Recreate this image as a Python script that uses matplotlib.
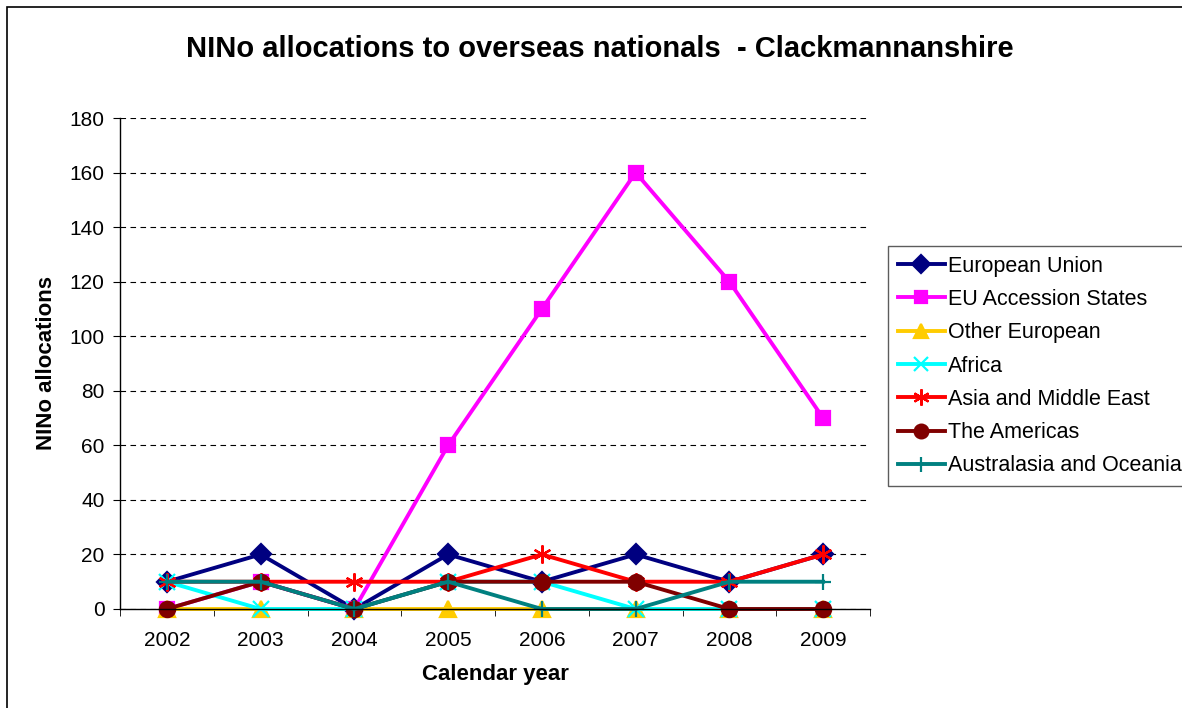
import numpy as np
import matplotlib
matplotlib.use("Agg")
import matplotlib.pyplot as plt
from matplotlib.patches import Rectangle

plt.rcParams['font.family'] = ['Liberation Sans', 'DejaVu Sans']

# Data
years = ['2002', '2003', '2004', '2005', '2006', '2007', '2008', '2009']
european_union = [10, 20, 0, 20, 10, 20, 10, 20]
eu_accession = [0, 10, 0, 60, 110, 160, 120, 70]
other_european = [0, 0, 0, 0, 0, 0, 0, 0]
africa = [10, 0, 0, 10, 10, 0, 0, 0]
asia_middle_east = [10, 10, 10, 10, 20, 10, 10, 20]
americas = [0, 10, 0, 10, 10, 10, 0, 0]
australasia = [10, 10, 0, 10, 0, 0, 10, 10]

series = [
    ('European Union', european_union, '#000080', 'D', 10),
    ('EU Accession States', eu_accession, '#FF00FF', 's', 10),
    ('Other European', other_european, '#FFCC00', '^', 11),
    ('Africa', africa, '#00FFFF', 'x', 11),
    ('Asia and Middle East', asia_middle_east, '#FF0000', (6, 2, 0), 13),
    ('The Americas', americas, '#800000', 'o', 11),
    ('Australasia and Oceania', australasia, '#008080', '+', 12),
]

fig = plt.figure(figsize=(11.82, 7.08), dpi=100)
ax = fig.add_axes([120 / 1182, 1 - 609 / 708, 750 / 1182, 491 / 708])

x = np.arange(len(years))
for name, vals, col, mk, ms in series:
    ax.plot(x, vals, color=col, lw=2.8, marker=mk, ms=ms,
            markerfacecolor=col, markeredgecolor=col, mew=1.6,
            label=name, clip_on=False)

ax.set_ylim(0, 180)
ax.set_yticks(np.arange(0, 181, 20))
ax.set_xlim(-0.5, len(years) - 0.5)
ax.set_xticks(x)
ax.set_xticklabels(years)
ax.set_xticks(np.arange(-0.5, len(years)), minor=True)
ax.tick_params(axis='x', which='major', length=0, pad=16, labelsize=15)
ax.tick_params(axis='x', which='minor', length=5, direction='out')
ax.tick_params(axis='y', length=5, direction='out', labelsize=15, pad=6)

ax.yaxis.grid(True, linestyle=(0, (5, 4)), color='black', lw=0.8)
ax.set_axisbelow(True)
for s in ['top', 'right']:
    ax.spines[s].set_visible(False)
for s in ['left', 'bottom']:
    ax.spines[s].set_linewidth(1.0)

ax.set_xlabel('Calendar year', fontsize=16, fontweight='bold', labelpad=10)
ax.set_ylabel('NINo allocations', fontsize=16, fontweight='bold', labelpad=9)

fig.text(600 / 1182, 1 - 49 / 708, 'NINo allocations to overseas nationals  - Clackmannanshire',
         ha='center', va='center', fontsize=21, fontweight='bold')

leg = ax.legend(loc='upper left', bbox_to_anchor=(888 / 1182, 1 - 246 / 708),
                bbox_transform=fig.transFigure, frameon=True, fancybox=False,
                fontsize=15.5, handlelength=2.2, handletextpad=0.15,
                borderpad=0.45, labelspacing=0.57, borderaxespad=0,
                markerscale=0.9)
leg.get_frame().set_edgecolor('#333333')
leg.get_frame().set_linewidth(1.0)

# outer chart border
fig.patches.append(Rectangle((7 / 1182, -0.01), 1.1, 1 - 7 / 708 + 0.01,
                             transform=fig.transFigure, fill=False,
                             edgecolor='black', lw=1.2))

fig.savefig('out.png', dpi=100)
